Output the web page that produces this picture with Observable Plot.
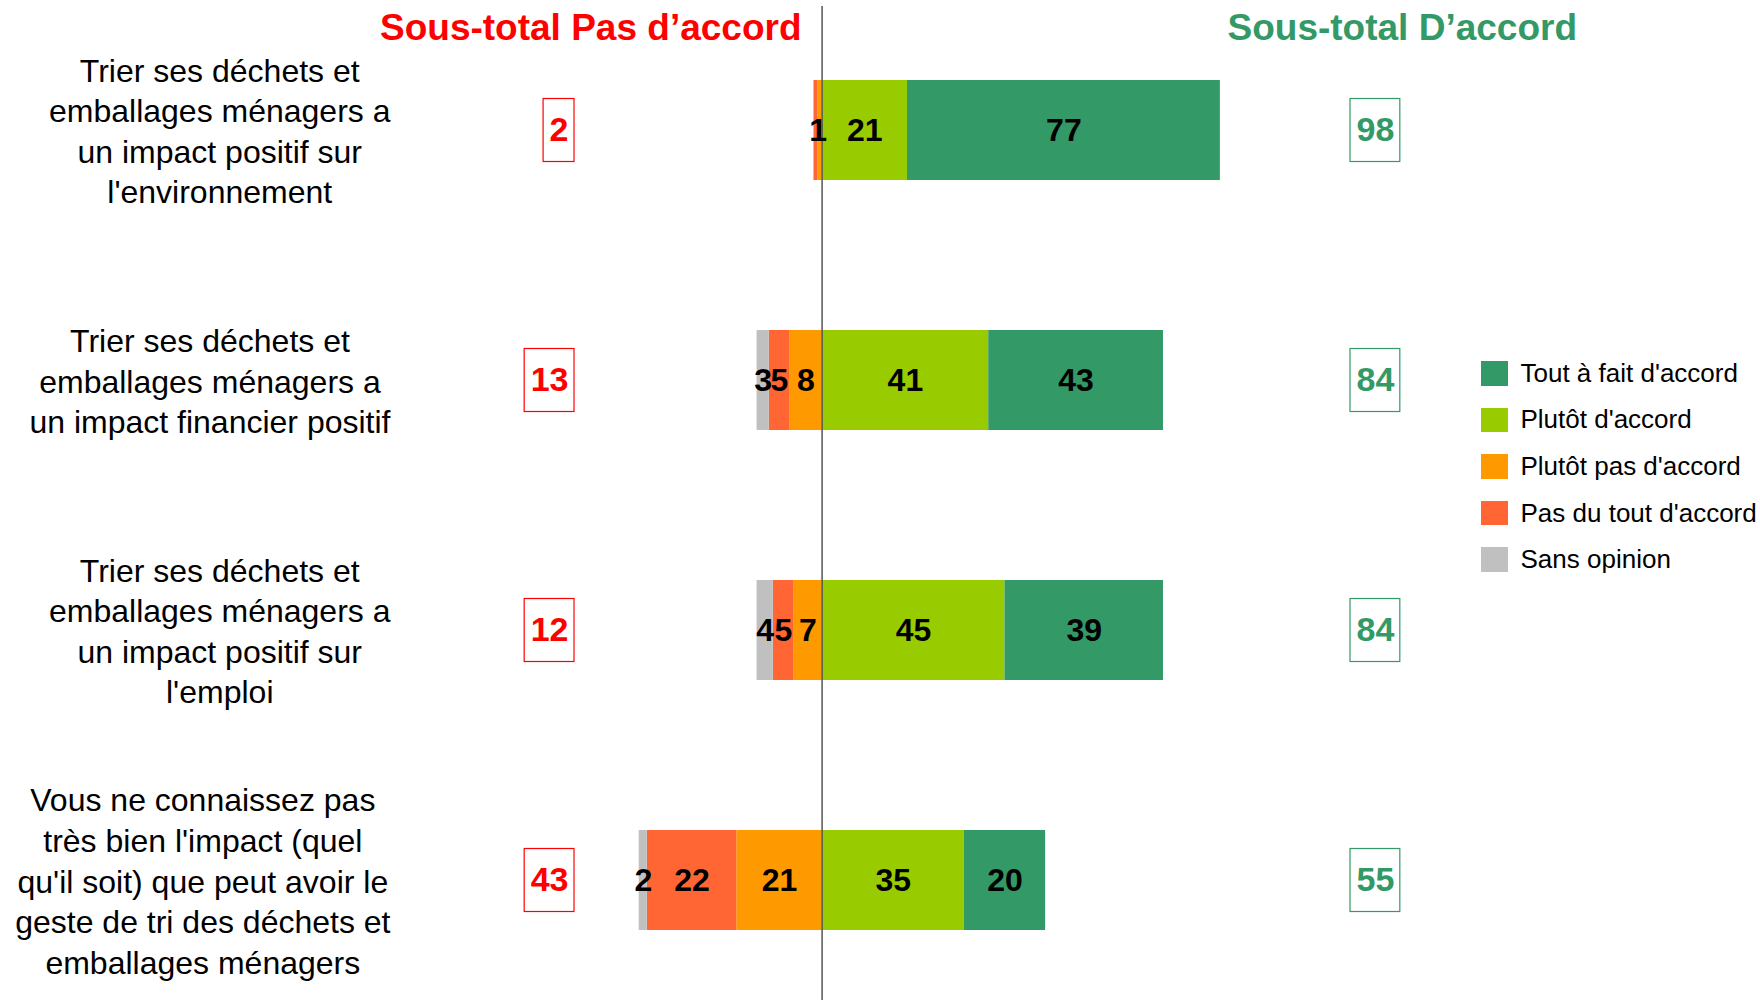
<!DOCTYPE html>
<html><head><meta charset="utf-8">
<script src="https://cdn.jsdelivr.net/npm/d3@7"></script>
<script src="https://cdn.jsdelivr.net/npm/@observablehq/plot@0.6"></script>
<style>
body{margin:0;background:#fff;}
#wrap{position:relative;width:1760px;height:1000px;font-family:"Liberation Sans",Arial,sans-serif;}
#legend{position:absolute;left:1481px;top:350px;}
.row{display:flex;align-items:center;height:46.6px;}
.sw{width:26.5px;height:24.5px;margin-right:13px;}
.lab{font-size:26px;color:#000;white-space:nowrap;}
</style></head><body><div id="wrap"></div>
<script>
// ---- data ----
const categories = [
  "Trier ses déchets et\nemballages ménagers a\nun impact positif sur\nl'environnement",
  "Trier ses déchets et\nemballages ménagers a\nun impact financier positif",
  "Trier ses déchets et\nemballages ménagers a\nun impact positif sur\nl'emploi",
  "Vous ne connaissez pas\ntrès bien l'impact (quel\nqu'il soit) que peut avoir le\ngeste de tri des déchets et\nemballages ménagers"
];
const responses = ["Tout à fait d'accord","Plutôt d'accord","Plutôt pas d'accord","Pas du tout d'accord","Sans opinion"];
const toutAFait    = [77, 43, 39, 20];
const plutotAccord = [21, 41, 45, 35];
const plutotPas    = [1, 8, 7, 21];
const pasDuTout    = [1, 5, 5, 22];
const sansOpinion  = [0, 3, 4, 2];
const sousTotalPas     = [2, 13, 12, 43];
const sousTotalAccord  = [98, 84, 84, 55];
const colors = ["#339966","#99CC00","#FF9900","#FF6633","#C0C0C0"];
const headerPas = "Sous-total Pas d’accord";
const headerAccord = "Sous-total D’accord";

// ---- layout ----
const W = 1760, H = 1000;
const CENTER_PX = 821.6, PX_PER_UNIT = 4.064;
const px2u = px => (px - CENTER_PX) / PX_PER_UNIT;
const LABEL_RIGHT = 390, RED_RIGHT = 574, GREEN_LEFT = 1350;
const FONT = "'Liberation Sans', Arial, sans-serif";

const series = {};
[toutAFait, plutotAccord, plutotPas, pasDuTout, sansOpinion].forEach((a, k) => series[responses[k]] = a);

const segs = [];
categories.forEach((c, i) => {
  let l = 0;
  for (const r of ["Plutôt pas d'accord","Pas du tout d'accord","Sans opinion"]) {
    const v = series[r][i]; segs.push({cat: c, resp: r, value: v, x1: l - v, x2: l}); l -= v;
  }
  let rr = 0;
  for (const r of ["Plutôt d'accord","Tout à fait d'accord"]) {
    const v = series[r][i]; segs.push({cat: c, resp: r, value: v, x1: rr, x2: rr + v}); rr += v;
  }
});

// labels: identical labels that would sit on top of each other are drawn once (as in the reference)
const labels = [];
for (const d of segs) {
  if (d.value <= 0) continue;
  const xm = (d.x1 + d.x2) / 2;
  if (labels.some(o => o.cat === d.cat && o.text === String(d.value) && Math.abs(o.x - xm) < 2.5)) {
    const o = labels.find(o => o.cat === d.cat && o.text === String(d.value) && Math.abs(o.x - xm) < 2.5);
    o.x = (o.x + xm) / 2; continue;
  }
  labels.push({cat: d.cat, x: xm, text: String(d.value)});
}

const ctx = document.createElement("canvas").getContext("2d");
function tw(text, size, weight) { ctx.font = `${weight || "normal"} ${size}px ${FONT}`; return ctx.measureText(text).width; }
const maxLineW = c => d3.max(c.split("\n"), s => tw(s, 32));

const rows = categories.map((c, i) => ({cat: c, pas: sousTotalPas[i], acc: sousTotalAccord[i]}));
const boxW = v => tw(String(v), 34, "bold") + 12;

const chart = Plot.plot({
  width: W, height: H,
  marginLeft: 0, marginRight: 0, marginTop: 0, marginBottom: 0,
  style: {fontFamily: FONT, background: "#fff"},
  x: {domain: [px2u(0), px2u(W)], range: [0, W], axis: null},
  y: {domain: categories, range: [5, 1005], paddingInner: 0.6, paddingOuter: 0.3, axis: null},
  color: {domain: responses, range: colors},
  marks: [
    Plot.barX(segs, {x1: "x1", x2: "x2", y: "cat", fill: "resp"}),
    Plot.ruleX([0], {stroke: "#555", strokeWidth: 1.5, insetTop: 6}),
    Plot.text(labels, {x: "x", y: "cat", text: "text",
      fontSize: 32, fontWeight: "bold", fill: "#000"}),
    Plot.text(categories, {x: c => px2u(LABEL_RIGHT - maxLineW(c) / 2), y: c => c, text: c => c,
      fontSize: 32, lineHeight: 1.27, textAnchor: "middle", lineAnchor: "middle", fill: "#000", dy: -1}),
    Plot.barX(rows, {y: "cat", x1: d => px2u(RED_RIGHT - boxW(d.pas)), x2: px2u(RED_RIGHT),
      fill: "#fff", stroke: "#FF0000", strokeWidth: 1.2, insetTop: 18.5, insetBottom: 18.5}),
    Plot.text(rows, {y: "cat", x: d => px2u(RED_RIGHT - boxW(d.pas) / 2), text: d => String(d.pas),
      fontSize: 34, fontWeight: "bold", fill: "#FF0000"}),
    Plot.barX(rows, {y: "cat", x1: px2u(GREEN_LEFT), x2: d => px2u(GREEN_LEFT + boxW(d.acc)),
      fill: "#fff", stroke: "#339966", strokeWidth: 1.2, insetTop: 18.5, insetBottom: 18.5}),
    Plot.text(rows, {y: "cat", x: d => px2u(GREEN_LEFT + boxW(d.acc) / 2), text: d => String(d.acc),
      fontSize: 34, fontWeight: "bold", fill: "#339966"}),
    Plot.text([headerPas], {x: px2u(801), frameAnchor: "top", dy: 28, textAnchor: "end", lineAnchor: "middle",
      fontSize: 37, fontWeight: "bold", fill: "#FF0000"}),
    Plot.text([headerAccord], {x: px2u(1227), frameAnchor: "top", dy: 28, textAnchor: "start", lineAnchor: "middle",
      fontSize: 37, fontWeight: "bold", fill: "#339966"})
  ]
});
const wrap = document.getElementById("wrap");
wrap.appendChild(chart);
const leg = document.createElement("div");
leg.id = "legend";
responses.forEach((r, k) => {
  const row = document.createElement("div"); row.className = "row";
  const sw = document.createElement("div"); sw.className = "sw"; sw.style.background = colors[k];
  const lab = document.createElement("div"); lab.className = "lab"; lab.textContent = r;
  row.appendChild(sw); row.appendChild(lab); leg.appendChild(row);
});
wrap.appendChild(leg);
</script></body></html>
